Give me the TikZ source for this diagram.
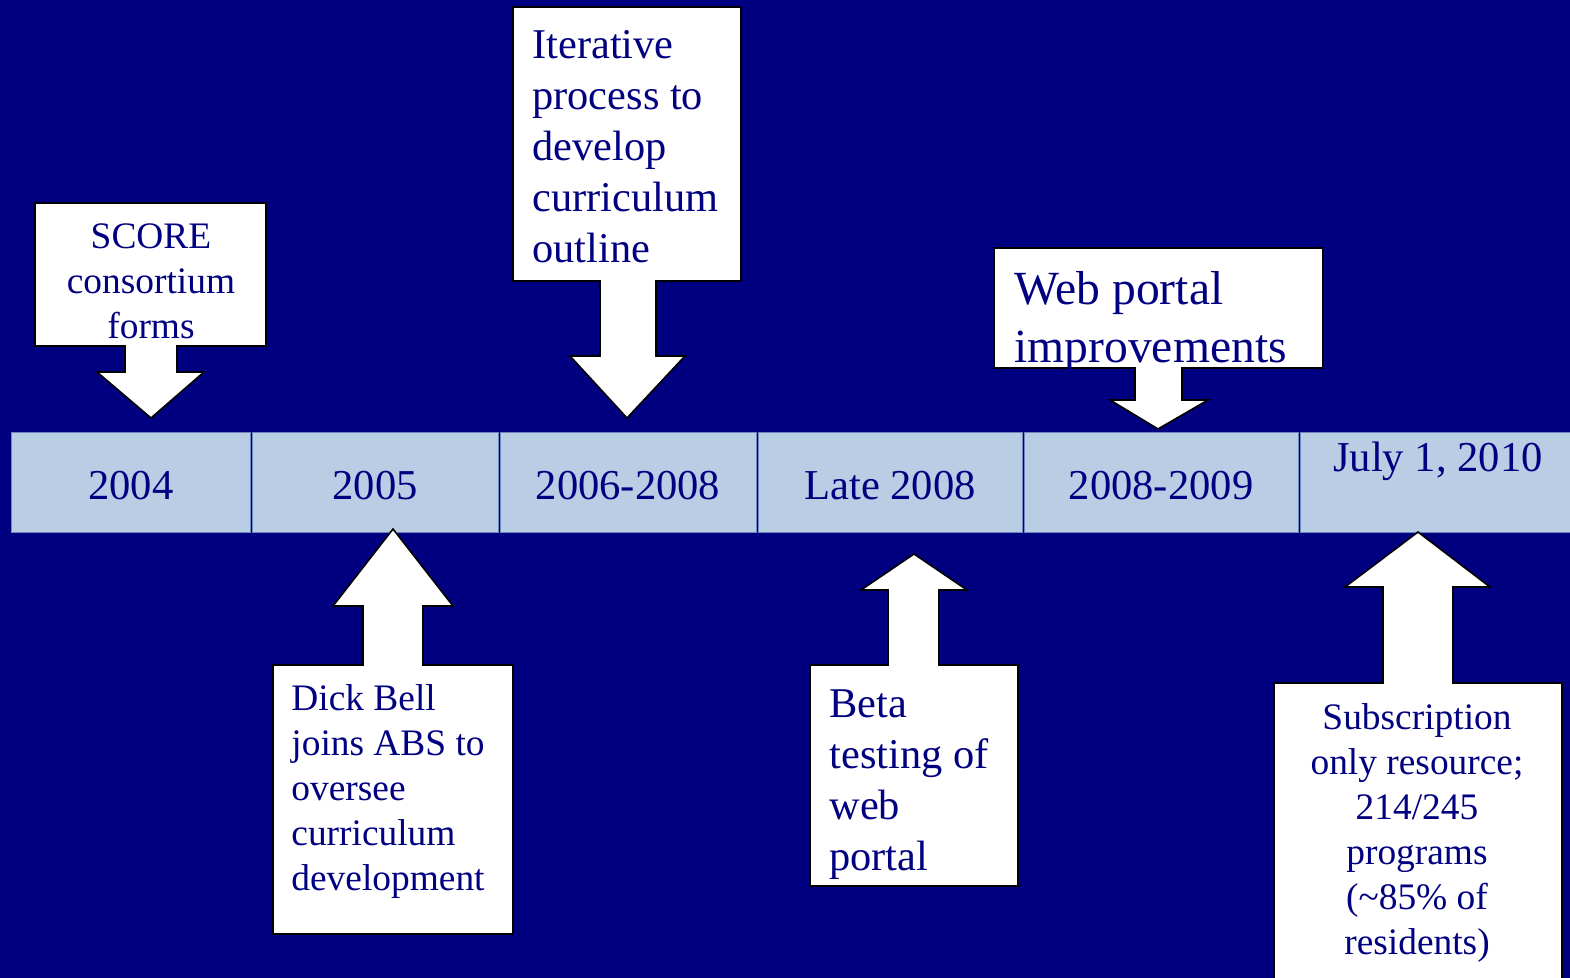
\documentclass[tikz,border=0pt]{standalone}
\usepackage{fontspec}
\setmainfont{Liberation Serif}
\usetikzlibrary{positioning}
\definecolor{slidenavy}{RGB}{0,0,128}
\definecolor{bandblue}{RGB}{185,205,229}
\definecolor{bandedge}{RGB}{110,135,195}
\newcommand{\yearfont}{\fontsize{21.3}{25.5}\selectfont}
\newcommand{\smallnote}{\fontsize{18.7}{22.5}\selectfont}
\newcommand{\midnote}{\fontsize{21.2}{25.5}\selectfont}
\newcommand{\bignote}{\fontsize{23.8}{29}\selectfont}

\begin{document}
\begin{tikzpicture}[x=0.5pt,y=-0.5pt,
    yearcell/.style={draw=bandedge, fill=bandblue, line width=0.4pt},
    yearlabel/.style={text=slidenavy, font=\yearfont, inner sep=0pt, anchor=base},
    callout/.style={draw=black, fill=white, line width=0.8pt, line join=miter},
    notetext/.style={text=slidenavy, inner sep=0pt}]
  \fill[slidenavy] (0,0) rectangle (1570,978);
  \useasboundingbox (0,0) rectangle (1570,978);

  % timeline band
  \draw[yearcell] (11.7,432) rectangle (250,532);
  \draw[yearcell] (252.7,432) rectangle (498,532);
  \draw[yearcell] (500.5,432) rectangle (756,532);
  \draw[yearcell] (758,432) rectangle (1022,532);
  \draw[yearcell] (1024,432) rectangle (1298,532);
  \draw[yearcell] (1300.5,432) rectangle (1575,532);

  \node[yearlabel] (y2004) at (131,500) {2004};
  \node[yearlabel] (y2005) at (375,500) {2005};
  \node[yearlabel] (y2006) at (628,500) {2006-2008};
  \node[yearlabel] (y2008) at (890,500) {Late 2008};
  \node[yearlabel] (y2009) at (1161,500) {2008-2009};
  \node[yearlabel] (y2010) at (1438,472) {July 1, 2010};

  % callouts above the band
  \draw[callout] (35,203) -- (266,203) -- (266,346) -- (177,346) -- (177,372) -- (204,372)
    -- (151,418) -- (97,372) -- (125,372) -- (125,346) -- (35,346) -- cycle;
  \draw[callout] (513,7) -- (741,7) -- (741,281) -- (656,281) -- (656,356) -- (685,356)
    -- (627,418) -- (570,356) -- (600,356) -- (600,281) -- (513,281) -- cycle;
  \draw[callout] (994,248) -- (1323,248) -- (1323,368) -- (1182,368) -- (1182,400) -- (1208,400)
    -- (1158,429) -- (1110,400) -- (1135,400) -- (1135,368) -- (994,368) -- cycle;

  % callouts below the band
  \draw[callout] (273,934) -- (513,934) -- (513,665) -- (423,665) -- (423,606) -- (453,606)
    -- (393,529) -- (333,606) -- (363,606) -- (363,665) -- (273,665) -- cycle;
  \draw[callout] (810,886) -- (1018,886) -- (1018,665) -- (939,665) -- (939,590) -- (967,590)
    -- (914,554) -- (861,590) -- (888,590) -- (888,665) -- (810,665) -- cycle;
  \draw[callout] (1274,995) -- (1562,995) -- (1562,683) -- (1453,683) -- (1453,587) -- (1490,587)
    -- (1418,532) -- (1345,587) -- (1383,587) -- (1383,683) -- (1274,683) -- cycle;

  \node[notetext, font=\smallnote, align=center, anchor=north] (score) at (151,223)
    {SCORE\\consortium\\forms};
  \node[notetext, font=\midnote, align=left, anchor=north west] (iterative) at (532,30)
    {Iterative\\process to\\develop\\curriculum\\outline};
  \node[notetext, font=\bignote, align=left, anchor=north west] (portal) at (1014,271)
    {Web portal\\improvements};
  \node[notetext, font=\smallnote, align=left, anchor=north west] (bell) at (291,684)
    {Dick Bell\\joins ABS to\\oversee\\curriculum\\development};
  \node[notetext, font=\midnote, align=left, anchor=north west] (beta) at (829,689)
    {Beta\\testing of\\web\\portal};
  \node[notetext, font=\smallnote, align=center, anchor=north] (subscription) at (1417,703)
    {Subscription\\only resource;\\214/245\\programs\\(\textasciitilde85\% of\\residents)};
\end{tikzpicture}
\end{document}
